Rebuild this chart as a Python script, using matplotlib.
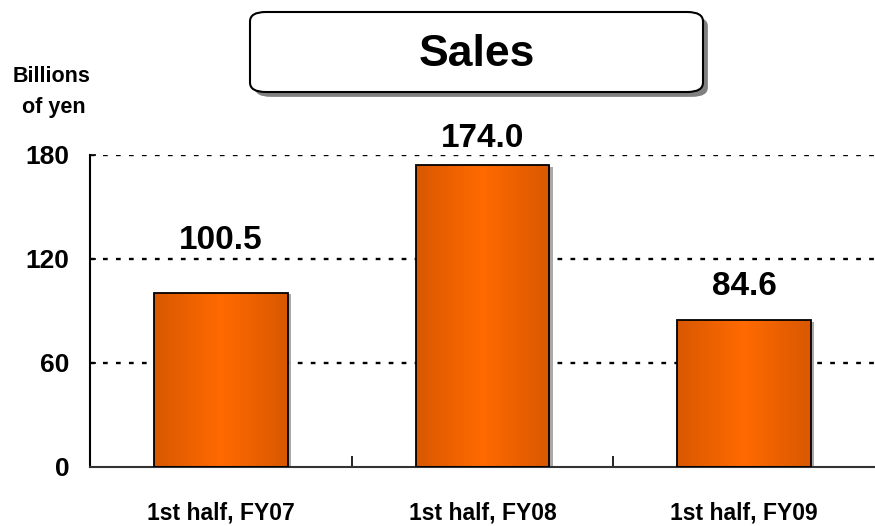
import numpy as np
import matplotlib.pyplot as plt
import matplotlib.patheffects as pe
from matplotlib.patches import FancyBboxPatch
from matplotlib.colors import LinearSegmentedColormap

# Data
categories = ["1st half, FY07", "1st half, FY08", "1st half, FY09"]
sales = [100.5, 174.0, 84.6]
value_labels = ["100.5", "174.0", "84.6"]
y_ticks = [0, 60, 120, 180]

FONT = ["Liberation Sans", "DejaVu Sans"]
plt.rcParams["font.family"] = FONT
plt.rcParams["font.weight"] = "bold"

fig = plt.figure(figsize=(8.75, 5.26), dpi=100)
ax = fig.add_axes([90 / 875, 59 / 526, 785 / 875, 312 / 526])

x = np.arange(len(categories))
# shadow + base fill
bars = ax.bar(x, sales, width=0.51, color="#E86000", zorder=2,
              path_effects=[pe.SimplePatchShadow(offset=(2.5, -1), shadow_rgbFace="#A0A0A0", alpha=0.9),
                            pe.Normal()])

# horizontal gradient inside each bar
cmap = LinearSegmentedColormap.from_list("orng", ["#D95800", "#FF6A00", "#D95800"])
grad = np.linspace(0, 1, 256).reshape(1, -1)
for b in bars:
    x0, w, h = b.get_x(), b.get_width(), b.get_height()
    im = ax.imshow(grad, cmap=cmap, extent=[x0, x0 + w, 0, h], aspect="auto", zorder=2.5)
    im.set_clip_path(b)
ax.bar(x, sales, width=0.51, facecolor="none", edgecolor="black", linewidth=1.3, zorder=3)

ax.set_xlim(-0.5, 2.5)
ax.set_ylim(0, 180)
ax.set_yticks(y_ticks)
ax.set_yticklabels([str(v) for v in y_ticks], fontsize=19, fontweight="bold")
ax.set_xticks([0.5, 1.5], minor=False)
ax.set_xticklabels([])
ax.tick_params(axis="y", direction="in", length=4, width=1.2, pad=15)
ax.tick_params(axis="x", direction="in", length=8, width=1.2)

for i, c in enumerate(categories):
    ax.text(i, -46 / 312, c, transform=ax.get_xaxis_transform(), ha="center", va="center",
            fontsize=16.5, fontweight="bold")

for yv in y_ticks[1:]:
    ax.axhline(yv, color="black", linestyle=(0, (2, 3.5)), linewidth=1.7, zorder=1)

for s in ["top", "right"]:
    ax.spines[s].set_visible(False)
ax.spines["left"].set_linewidth(1.5)
ax.spines["bottom"].set_linewidth(1.5)
ax.spines["bottom"].set_color("#333333")

# value labels above bars (baseline gap in points)
label_gap = [31.5, 13, 18]
for i, (v, t) in enumerate(zip(sales, value_labels)):
    ax.annotate(t, (i, v), xytext=(0, label_gap[i]), textcoords="offset points",
                ha="center", va="baseline", fontsize=24, fontweight="bold")

# unit label
fig.text(52 / 875, 1 - 77 / 526, "Billions", ha="center", va="center", fontsize=15.5, fontweight="bold")
fig.text(54 / 875, 1 - 108 / 526, "of yen", ha="center", va="center", fontsize=15.5, fontweight="bold")

# title box
box = FancyBboxPatch((250 / 875, 1 - 92 / 526), 453 / 875, 80 / 526,
                     boxstyle="round,pad=0,rounding_size=0.018", transform=fig.transFigure,
                     facecolor="white", edgecolor="black", linewidth=1.5,
                     path_effects=[pe.SimplePatchShadow(offset=(3.5, -3.5), shadow_rgbFace="#808080", alpha=1),
                                   pe.Normal()])
fig.patches.append(box)
fig.text(477 / 875, 1 - 54 / 526, "Sales", ha="center", va="center", fontsize=32, fontweight="bold")

fig.savefig("out.png", dpi=100)
